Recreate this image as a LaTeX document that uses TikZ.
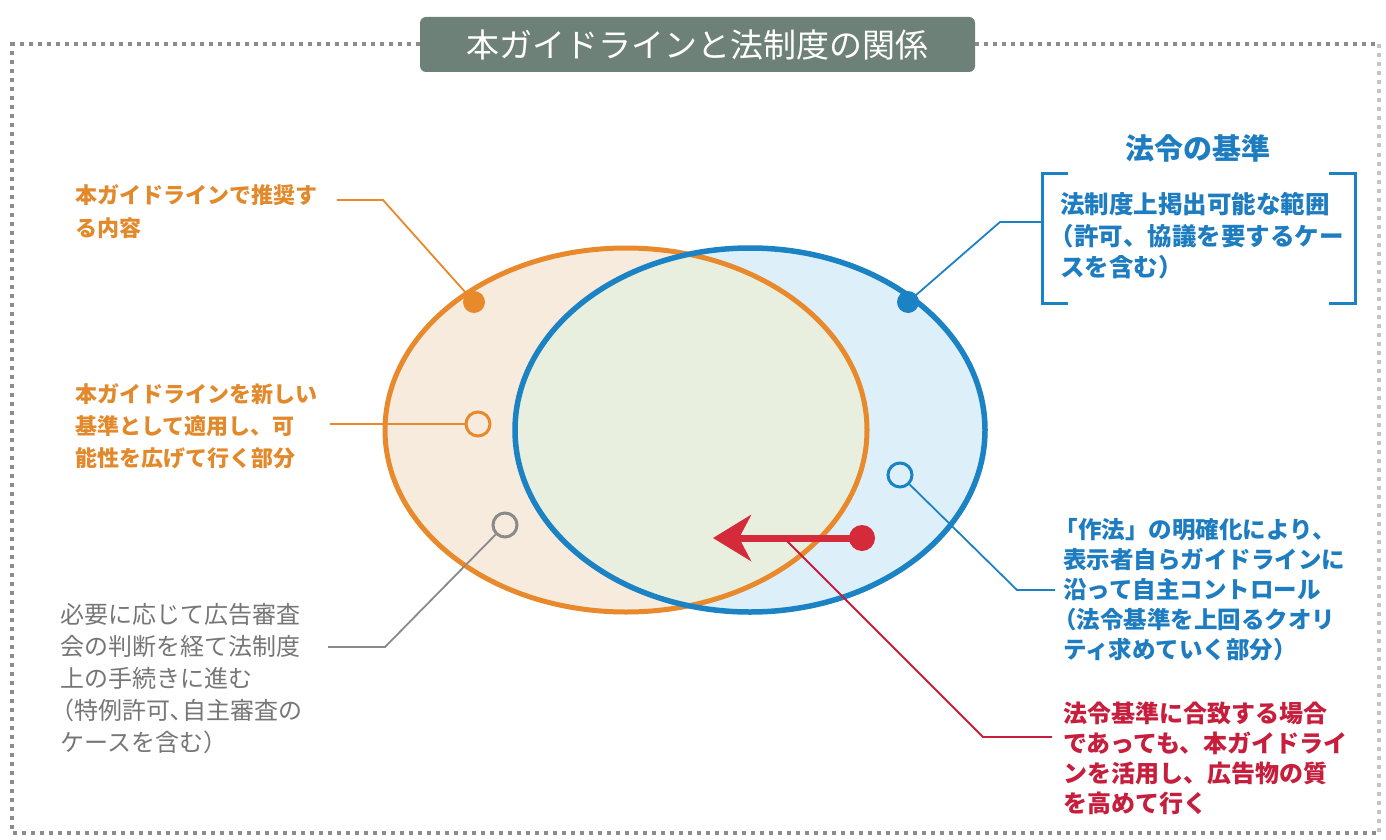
\documentclass[tikz,border=0pt]{standalone}
\usepackage{fontspec}
\newfontfamily\jp{Noto Sans CJK JP}
\usetikzlibrary{arrows.meta}
\definecolor{org}{HTML}{E8892C}
\definecolor{orgtxt}{HTML}{E2892B}
\definecolor{blu}{HTML}{1B82C4}
\definecolor{blutxt}{HTML}{1E7DC0}
\definecolor{rd}{HTML}{D42A3A}
\definecolor{rdtxt}{HTML}{C61E3C}
\definecolor{gry}{HTML}{8A8A8A}
\definecolor{grytxt}{HTML}{767676}
\definecolor{ttl}{HTML}{6E8178}
\definecolor{ofill}{HTML}{F7EBDD}
\definecolor{bfill}{HTML}{DDEFF9}
\definecolor{mfill}{HTML}{E9EFDF}
\definecolor{brd}{HTML}{8C8C8C}
\definecolor{brdl}{HTML}{C4C4C4}
\newcommand{\lp}{\kern-0.42em（}
\begin{document}
\begin{tikzpicture}[x=1pt,y=-1pt,
  txt/.style={inner sep=0pt, align=left, anchor=west},
  leader/.style={line width=1.8pt},
  border/.style={line width=4pt, dash pattern=on 4pt off 5pt},
  dotm/.style={circle, inner sep=0pt, minimum size=22pt},
  ring/.style={circle, inner sep=0pt, minimum size=24pt, line width=3pt, draw}]
\useasboundingbox (0,0) rectangle (1386,840);
\fill[white] (0,0) rectangle (1386,840);

% ellipses
\fill[ofill] (626,430) ellipse [x radius=241pt, y radius=182pt];
\fill[bfill] (750,430) ellipse [x radius=235pt, y radius=182pt];
\begin{scope}
  \clip (626,430) ellipse [x radius=241pt, y radius=182pt];
  \fill[mfill] (750,430) ellipse [x radius=235pt, y radius=182pt];
\end{scope}
\draw[org, line width=5pt] (626,430) ellipse [x radius=241pt, y radius=182pt];
\draw[blu, line width=5.5pt] (750,430) ellipse [x radius=235pt, y radius=182pt];

% title and border
\node[fill=ttl, rounded corners=6pt, minimum width=555pt, minimum height=55pt,
  text=white, inner sep=0pt, font=\jp\fontsize{33}{33}\selectfont] (title) at (697.5,44.5) {本ガイドラインと法制度の関係};
\coordinate (bl) at (12,833);
\coordinate (tl) at (12,44.5);
\coordinate (tr) at (1379,44.5);
\coordinate (br) at (1379,833);
\draw[border, brd] (title.west) -- (tl) -- (bl) -- (br);
\draw[border, brd] (title.east) -- (tr);
\draw[border, brdl] (tr) -- (br);

% orange filled dot
\node[dotm, fill=org] (od) at (474,302) {};
\coordinate (odk) at (383,200);
\coordinate (ode) at (337,200);
\draw[leader, org] (od.center) -- (odk) -- (ode);
\node[txt, text=orgtxt, font=\jp\bfseries\fontsize{22}{33}\selectfont] (t1) at (75,212) {本ガイドラインで推奨す\\る内容};

% orange ring
\node[ring, draw=org] (or) at (478,424) {};
\coordinate (ore) at (330,424);
\draw[leader, org] (or.west) -- (ore);
\node[txt, text=orgtxt, font=\jp\bfseries\fontsize{22}{32}\selectfont] (t2) at (75,426) {本ガイドラインを新しい\\基準として適用し、可\\能性を広げて行く部分};

% gray ring
\node[ring, draw=gry] (gr) at (505,525) {};
\coordinate (grk) at (385,647);
\coordinate (gre) at (328,647);
\draw[leader, gry] (gr) -- (grk) -- (gre);
\node[txt, text=grytxt, font=\jp\fontsize{24}{32}\selectfont] (t3) at (60,679) {必要に応じて広告審査\\会の判断を経て法制度\\上の手続きに進む\\\lp 特例許可､自主審査の\\ケースを含む）};

% blue filled dot and bracket
\node[dotm, fill=blu] (bd) at (908,302) {};
\coordinate (bdk) at (1000,222);
\coordinate (bde) at (1042,222);
\draw[leader, blu] (bd.center) -- (bdk) -- (bde);
\draw[blu, line width=3pt] (1068,173) -- (1042,173) -- (1042,303) -- (1068,303);
\draw[blu, line width=3pt] (1329,173) -- (1355,173) -- (1355,303) -- (1329,303);
\node[inner sep=0pt, text=blutxt, font=\jp\bfseries\fontsize{29}{29}\selectfont] (hd) at (1198,148) {法令の基準};
\node[txt, text=blutxt, font=\jp\bfseries\fontsize{24.5}{31.5}\selectfont] (t4) at (1060,236) {法制度上掲出可能な範囲\\\lp 許可、協議を要するケー\\スを含む）};

% blue ring
\node[ring, draw=blu] (br2) at (900,475) {};
\coordinate (brk) at (1017,590);
\coordinate (bre) at (1055,590);
\draw[leader, blu] (br2) -- (brk) -- (bre);
\node[txt, text=blutxt, font=\jp\bfseries\fontsize{23.5}{30}\selectfont] (t5) at (1063,590) {\kern-0.35em「作法」の明確化により、\\表示者自らガイドラインに\\沿って自主コントロール\\\lp 法令基準を上回るクオリ\\ティ求めていく部分）};

% red arrow
\node[circle, inner sep=0pt, minimum size=26pt, fill=rd] (rdot) at (862,538) {};
\coordinate (atip) at (713,538);
\draw[rd, line width=7pt, -{Stealth[length=38pt, width=46pt, inset=12pt]}] (rdot.center) -- (atip);
\coordinate (rs) at (787,541);
\coordinate (rk) at (983,737);
\coordinate (re) at (1052,737);
\draw[leader, rdtxt] (rs) -- (rk) -- (re);
\node[txt, text=rdtxt, font=\jp\bfseries\fontsize{24}{30}\selectfont] (t6) at (1063,758) {法令基準に合致する場合\\であっても、本ガイドライ\\ンを活用し、広告物の質\\を高めて行く};
\end{tikzpicture}
\end{document}
